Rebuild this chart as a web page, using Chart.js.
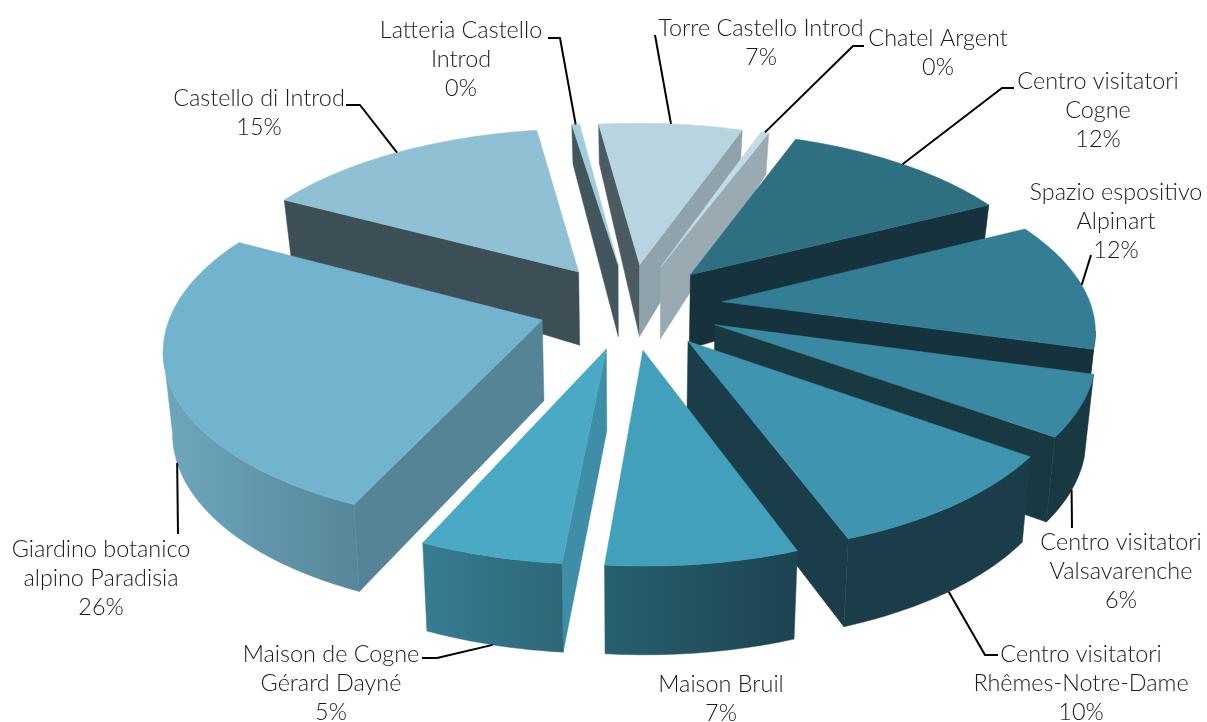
<!DOCTYPE html>
<html>
<head>
<meta charset="utf-8">
<style>html,body{margin:0;padding:0;background:#fff}canvas{display:block}</style>
<script src="https://cdn.jsdelivr.net/npm/chart.js@4"></script>
</head>
<body>
<canvas id="c" width="1207" height="722"></canvas>
<script>
const categories = [
  ["Torre Castello Introd"],["Chatel Argent"],["Centro visitatori","Cogne"],
  ["Spazio espositivo","Alpinart"],["Centro visitatori","Valsavarenche"],
  ["Centro visitatori","Rhêmes-Notre-Dame"],["Maison Bruil"],
  ["Maison de Cogne","Gérard Dayné"],["Giardino botanico","alpino Paradisia"],
  ["Castello di Introd"],["Latteria Castello","Introd"]
];
const percentLabels = ["7%","0%","12%","12%","6%","10%","7%","5%","26%","15%","0%"];
const values = [7.4,0.4,11.9,11.9,5.6,9.6,7.1,5.3,26.3,14.9,0.4];
const topColors   = ["#b8d4e0","#c3dbe5","#2e6f82","#347e95","#3a89a3","#3f94af","#43a0bc","#4aa9c5","#72b4cd","#8fc0d3","#a3cddd"];
const startWalls  = ["#4c5b61","#9aaab2","#15323d","#15323d","#183842","#1a3d49","#1d4451","#3f8ea8","#558496","#3c4f56","#43565e"];
const endWalls    = ["#8fa3ac","#9aaab2","#15323d","#15323d","#183842","#1a3d49","#28606f","#377d92","#6ea7bd","#3c4f56","#43565e"];
const rimLeft     = ["#8fa3ac","#9aaab2","#15323d","#15323d","#183842","#1a3d49","#28606f","#377d92","#6ea7bd","#3c4f56","#43565e"];
const rimRight    = ["#8fa3ac","#9aaab2","#15323d","#15323d","#183842","#1a3d49","#1c4350","#2e6778","#57879a","#3c4f56","#43565e"];
const explode     = [68,68,68,68,68,68,68,68,68,68,68];
const drawOrder   = [10,0,1,2,9,3,8,4,5,7,6];

/* Label layout: centre x, first-line y, leader bend + end, whether leader ends at the bottom rim */
const labelLayout = [
  {x:761,y:28.5, bottom:false, path:[[655,35]]},
  {x:938,y:38.5, bottom:false, path:[[853,46],[864,46]]},
  {x:1098,y:81.5,bottom:false, path:[[1002,88],[1014,88]]},
  {x:1116,y:192.5,bottom:false,path:[[1091,255]]},
  {x:1121,y:542.5,bottom:true, path:[[1072,528]]},
  {x:1081,y:654.5,bottom:true, path:[[985,655],[998,655]]},
  {x:721,y:684.5, bottom:false,path:null},
  {x:331,y:654.5, bottom:true, path:[[437,658],[422,658]]},
  {x:101,y:549.5, bottom:true, path:[[178,534]]},
  {x:259,y:98.5,  bottom:false,path:[[360,105],[346,105]]},
  {x:461,y:30.5,  bottom:false,path:[[560,38],[548,38]]}
];
const LINE_H = 29;
const RX = 369, RY = 172, Q = 0.14;

function project(chart,u,v){
  const a = chart.getDatasetMeta(0).data[0];
  const k = 1/(1-Q*v);
  return [a.x+RX*u*k, a.y+RY*v*k];
}
function lower(chart,u,v,p){
  const cx = chart.getDatasetMeta(0).data[0].x;
  const h = v>0 ? 80+7*v : 80+33*v;
  return [cx+(p[0]-cx)*0.98, p[1]+h];
}
function polygon(ctx,pts,fill){
  ctx.beginPath();
  pts.forEach((p,i)=> i?ctx.lineTo(p[0],p[1]):ctx.moveTo(p[0],p[1]));
  ctx.closePath();
  ctx.fillStyle=fill; ctx.strokeStyle=fill; ctx.lineWidth=0.5;
  ctx.fill(); ctx.stroke();
}
function ground(arc,r,ang){
  /* r in units of the pie radius, ang in Chart.js radians */
  const R = arc.outerRadius, off = (arc.options.offset||0)/R;
  const mid = (arc.startAngle+arc.endAngle)/2;
  return [r*Math.cos(ang)+off*Math.cos(mid), r*Math.sin(ang)+off*Math.sin(mid)];
}

const pie3d = {
  id:'pie3d',
  beforeDatasetsDraw(chart){
    const ctx = chart.ctx, arcs = chart.getDatasetMeta(0).data;
    ctx.save();
    drawOrder.forEach(i=>{
      const arc = arcs[i];
      const n = Math.max(3,Math.ceil((arc.endAngle-arc.startAngle)/(Math.PI/180)));
      const T=[],B=[];
      for(let s=0;s<=n;s++){
        const a = arc.startAngle+(arc.endAngle-arc.startAngle)*s/n;
        const g = ground(arc,1,a), p = project(chart,g[0],g[1]);
        T.push(p);B.push(lower(chart,g[0],g[1],p));
      }
      const gt = ground(arc,0,0), tip = project(chart,gt[0],gt[1]), tipB = lower(chart,gt[0],gt[1],tip);
      const midT = T[Math.floor(n/2)];
      const edge = (q,qb,color)=>{
        const dx=q[0]-tip[0], dy=q[1]-tip[1];
        const crossT = dx*(midT[1]-tip[1])-dy*(midT[0]-tip[0]);
        if(crossT*dx<0) polygon(ctx,[tip,q,qb,tipB],color);
      };
      edge(T[0],B[0],startWalls[i]);
      edge(T[n],B[n],endWalls[i]);
      /* outer rim: the part that runs right-to-left on screen faces the viewer */
      let run=[];
      const flush=()=>{
        if(run.length<2){run=[];return;}
        const tops=run.map(s=>T[s]), bots=run.map(s=>B[s]).reverse();
        const xs=tops.map(p=>p[0]);
        const grad=ctx.createLinearGradient(Math.min(...xs),0,Math.max(...xs),0);
        grad.addColorStop(0,rimLeft[i]);grad.addColorStop(1,rimRight[i]);
        polygon(ctx,tops.concat(bots),grad);
        run=[];
      };
      for(let s=0;s<n;s++){
        if(T[s+1][0]<T[s][0]){ if(!run.length) run.push(s); run.push(s+1);} else flush();
      }
      flush();
      polygon(ctx,[tip].concat(T),topColors[i]);
    });
    ctx.restore();
    return false;
  },
  afterDraw(chart){
    const ctx = chart.ctx, arcs = chart.getDatasetMeta(0).data;
    ctx.save();
    ctx.strokeStyle='#000';ctx.lineWidth=2;ctx.lineJoin='round';
    labelLayout.forEach((l,i)=>{
      if(!l.path) return;
      const arc=arcs[i], mid=(arc.startAngle+arc.endAngle)/2;
      const g=ground(arc,1,mid); let p=project(chart,g[0],g[1]);
      if(l.bottom) p=lower(chart,g[0],g[1],p);
      ctx.beginPath();ctx.moveTo(p[0],p[1]);
      l.path.forEach(q=>ctx.lineTo(q[0],q[1]));
      ctx.stroke();
    });
    ctx.fillStyle='#1a1a1a';
    ctx.font='300 23.4px Lato, "Open Sans", sans-serif';
    ctx.textAlign='center';ctx.textBaseline='middle';
    labelLayout.forEach((l,i)=>{
      const lines=categories[i].concat([percentLabels[i]]);
      lines.forEach((t,j)=>ctx.fillText(t,l.x,l.y+j*LINE_H));
    });
    ctx.restore();
  }
};

new Chart(document.getElementById('c'),{
  type:'pie',
  data:{labels:categories.map(c=>c.join(' ')),datasets:[{data:values,backgroundColor:topColors,offset:explode,borderWidth:0,hoverOffset:0}]},
  options:{
    responsive:false,animation:false,rotation:-7.3,
    layout:{padding:{left:54,bottom:110}},
    plugins:{legend:{display:false},tooltip:{enabled:false}}
  },
  plugins:[pie3d]
});
</script>
</body>
</html>
